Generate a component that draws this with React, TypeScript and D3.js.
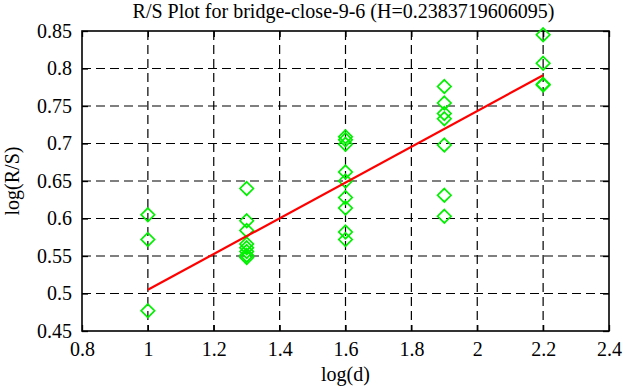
import React, { useEffect, useRef } from "react";
import * as d3 from "d3";

// log(d) for each group of points
const logD = [1, 1.3, 1.6, 1.9, 2.2];

// log(R/S) values, one list per log(d)
const rsAt1 = [0.605, 0.572, 0.477];
const rsAt13 = [0.64, 0.597, 0.584, 0.566, 0.561, 0.556, 0.551, 0.548];
const rsAt16 = [0.709, 0.705, 0.699, 0.662, 0.65, 0.628, 0.614, 0.582, 0.572];
const rsAt19 = [0.776, 0.754, 0.74, 0.733, 0.698, 0.631, 0.603];
const rsAt22 = [0.845, 0.807, 0.779, 0.778];

const hurst = 0.2383719606095;
const intercept = 0.2666;

const xTicks = [0.8, 1, 1.2, 1.4, 1.6, 1.8, 2, 2.2, 2.4];
const yTicks = [0.45, 0.5, 0.55, 0.6, 0.65, 0.7, 0.75, 0.8, 0.85];

const title = "R/S Plot for bridge-close-9-6 (H=0.2383719606095)";

export default function App() {
  const ref = useRef<SVGSVGElement>(null);

  useEffect(() => {
    const svg = d3.select(ref.current);
    svg.selectAll("*").remove();

    const W = 626;
    const H = 387;
    const margin = { top: 31, right: 17, bottom: 56, left: 82 };
    const width = W - margin.left - margin.right;
    const height = H - margin.top - margin.bottom;
    const font = "Liberation Serif";
    const fs = 20;

    const x = d3.scaleLinear().domain([0.8, 2.4]).range([0, width]);
    const y = d3.scaleLinear().domain([0.45, 0.85]).range([height, 0]);

    svg.append("rect").attr("width", W).attr("height", H).attr("fill", "#fff");

    const g = svg
      .append("g")
      .attr("transform", "translate(" + margin.left + "," + margin.top + ")");

    // grid
    g.selectAll(".gx")
      .data(xTicks.slice(1, -1))
      .enter()
      .append("line")
      .attr("x1", (d) => x(d))
      .attr("x2", (d) => x(d))
      .attr("y1", 0)
      .attr("y2", height)
      .attr("stroke", "#000")
      .attr("stroke-width", 1.2)
      .attr("stroke-dasharray", "9,5");
    g.selectAll(".gy")
      .data(yTicks.slice(1, -1))
      .enter()
      .append("line")
      .attr("x1", 0)
      .attr("x2", width)
      .attr("y1", (d) => y(d))
      .attr("y2", (d) => y(d))
      .attr("stroke", "#000")
      .attr("stroke-width", 1.2)
      .attr("stroke-dasharray", "9,5");

    // axes with inward ticks
    const bottom = g
      .append("g")
      .attr("transform", "translate(0," + height + ")")
      .call(d3.axisBottom(x).tickValues(xTicks).tickSizeInner(-6).tickSizeOuter(0).tickPadding(11).tickFormat(d3.format("")));
    const left = g
      .append("g")
      .call(d3.axisLeft(y).tickValues(yTicks).tickSizeInner(-6).tickSizeOuter(0).tickPadding(10).tickFormat(d3.format("")));
    g.append("g")
      .call(d3.axisTop(x).tickValues(xTicks).tickSizeInner(-6).tickSizeOuter(0).tickFormat(() => ""));
    g.append("g")
      .attr("transform", "translate(" + width + ",0)")
      .call(d3.axisRight(y).tickValues(yTicks).tickSizeInner(-6).tickSizeOuter(0).tickFormat(() => ""));

    g.selectAll(".domain").remove();
    g.selectAll(".tick line").attr("stroke", "#000").attr("stroke-width", 1.3);
    [bottom, left].forEach((a) => a.attr("font-family", font).attr("font-size", fs));
    [bottom, left].forEach((a) => a.selectAll("text").attr("fill", "#000"));

    g.append("rect")
      .attr("width", width)
      .attr("height", height)
      .attr("fill", "none")
      .attr("stroke", "#000")
      .attr("stroke-width", 1.6);

    // points
    const groups = [rsAt1, rsAt13, rsAt16, rsAt19, rsAt22];
    const points = groups.flatMap((vals, i) => vals.map((v) => [logD[i], v]));
    const diamond = d3.symbol().type(d3.symbolDiamond2).size(115);
    g.selectAll(".pt")
      .data(points)
      .enter()
      .append("path")
      .attr("d", diamond)
      .attr("transform", (d) => "translate(" + x(d[0]) + "," + y(d[1]) + ")")
      .attr("fill", "none")
      .attr("stroke", "#00f000")
      .attr("stroke-width", 1.7);

    // fit line
    const fit = [logD[0], logD[logD.length - 1]];
    g.append("line")
      .attr("x1", x(fit[0]))
      .attr("y1", y(hurst * fit[0] + intercept))
      .attr("x2", x(fit[1]))
      .attr("y2", y(hurst * fit[1] + intercept))
      .attr("stroke", "#ff0000")
      .attr("stroke-width", 2.2);

    // labels
    const label = (s: string) =>
      svg.append("text").attr("font-family", font).attr("font-size", fs).attr("fill", "#000").text(s);
    label(title).attr("x", margin.left + width / 2 - 2).attr("y", 18).attr("text-anchor", "middle");
    label("log(d)").attr("x", margin.left + width / 2).attr("y", 381).attr("text-anchor", "middle");
    label("log(R/S)")
      .attr("transform", "translate(19," + (margin.top + height / 2) + ")rotate(-90)")
      .attr("text-anchor", "middle");
  }, []);

  return (
    <svg
      ref={ref}
      width={626}
      height={387}
      style={{ position: "absolute", left: 0, top: 0, display: "block" }}
    />
  );
}
